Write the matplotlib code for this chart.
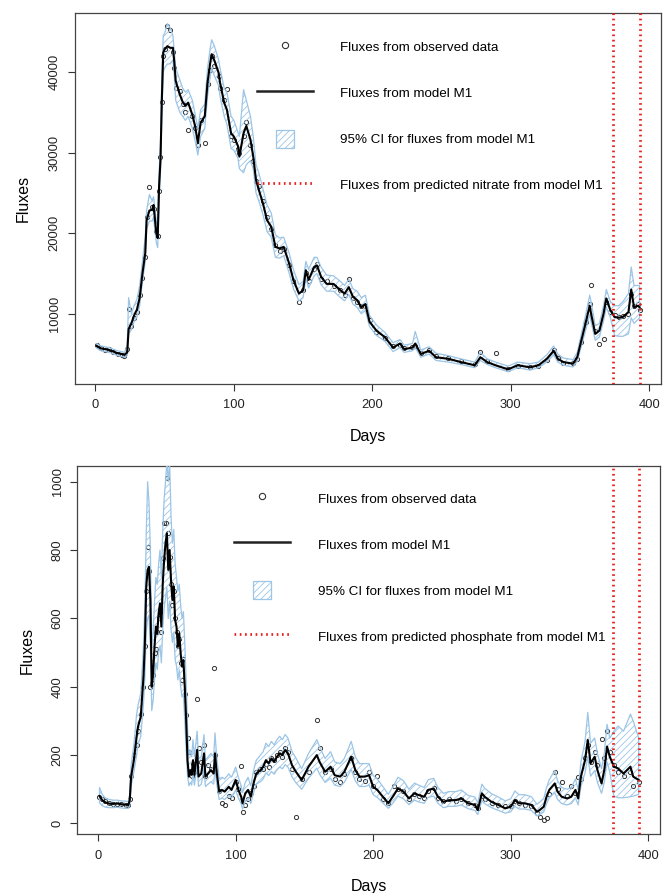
import matplotlib
matplotlib.use("Agg")
import matplotlib.pyplot as plt
import matplotlib.patches as mpatches
from matplotlib.lines import Line2D
from matplotlib.legend_handler import HandlerPatch

plt.rcParams['font.family'] = ['Liberation Sans', 'DejaVu Sans']
plt.rcParams['hatch.linewidth'] = 0.6

# ---- nitrate fluxes (top panel) ----
days_n = [1, 4, 7, 10, 13, 16, 19, 21, 23, 24, 26, 28, 30, 32, 34, 36, 37, 39, 41, 42,
          44, 45, 46, 47, 48, 49, 50, 52, 54, 56, 57, 58, 61, 63, 65, 67, 70, 72, 74, 76,
          79, 81, 83, 84, 86, 89, 90, 93, 95, 98, 100, 103, 104, 107, 109, 112, 114, 116, 118, 121,
          124, 127, 130, 133, 136, 140, 143, 147, 150, 152, 154, 158, 160, 163, 167, 172, 177, 180, 183, 186,
          189, 192, 195, 198, 203, 209, 215, 220, 223, 229, 231, 235, 241, 246, 255, 264, 274, 278, 283, 289,
          298, 305, 314, 320, 326, 331, 334, 338, 345, 348, 351, 354, 357, 358, 361, 364, 367, 369, 372, 375,
          378, 381, 385, 387, 389, 392, 393]
model_n = [6000, 5700, 5600, 5500, 5300, 5100, 5000, 4900, 5200, 8100, 8800, 9800, 10500, 12000, 15000, 17500, 21600, 22800, 22900, 23500,
           20000, 19400, 25800, 29000, 36600, 42400, 42800, 43200, 43000, 43000, 41200, 38900, 37200, 36300, 35800, 36200, 34700, 33300, 31200, 33700,
           34500, 38700, 41200, 42200, 41400, 39900, 38700, 36200, 35300, 32400, 32000, 30800, 29500, 32400, 33300, 31600, 29500, 26600, 25400, 23700,
           21600, 20800, 18300, 18100, 18300, 16200, 14200, 12500, 12900, 15400, 14200, 15800, 16000, 14600, 13700, 13700, 12900, 12500, 13300, 12100,
           11700, 10800, 11200, 9000, 7900, 7100, 5800, 6300, 5600, 5800, 6300, 5000, 5400, 4600, 4400, 4000, 3600, 4600, 4000, 3600,
           3100, 3600, 3350, 3600, 4400, 5400, 4400, 4000, 3800, 4600, 6700, 8800, 11000, 10000, 7500, 7900, 10000, 11900, 10400, 9600,
           9500, 9600, 10200, 13000, 10800, 11000, 10800]
upper_n = [6300, 6000, 5900, 5800, 5600, 5400, 5300, 5200, 6000, 12000, 10000, 11000, 11800, 13500, 16500, 19500, 22800, 24800, 24000, 24500,
           21500, 21000, 27500, 31000, 39500, 44500, 44800, 46000, 45500, 44500, 42500, 40500, 39000, 38000, 37500, 37800, 36500, 34800, 33000, 35300,
           36000, 40500, 43000, 44000, 43200, 41500, 40500, 38000, 37500, 34500, 34000, 32500, 32000, 37800, 36500, 34500, 32000, 28500, 27500, 25500,
           23500, 22500, 19800, 19400, 19500, 17500, 15500, 13600, 14000, 16500, 15500, 17000, 17000, 15800, 14800, 14700, 14000, 13500, 14300, 13100,
           12800, 12000, 12300, 9800, 8600, 7700, 6400, 6800, 6100, 6300, 7800, 5500, 5900, 5100, 4800, 4400, 4000, 5200, 4400, 4000,
           3500, 4000, 3800, 4000, 4900, 6000, 5000, 4500, 4300, 5200, 7500, 9800, 12300, 11500, 8500, 8800, 11000, 13000, 11500, 11000,
           11000, 11500, 12500, 15800, 13500, 13500, 13500]
lower_n = [5700, 5400, 5300, 5200, 5000, 4800, 4700, 4600, 4800, 7500, 8000, 9000, 9600, 11000, 14000, 16500, 20500, 21500, 21500, 22000,
           18800, 18200, 24000, 27500, 34500, 40000, 40500, 41000, 41000, 41500, 39500, 36500, 35000, 34500, 34000, 34500, 33000, 31500, 29700, 32000,
           33000, 37000, 39500, 40500, 39500, 38300, 37000, 34500, 33500, 30500, 30300, 29300, 28000, 27500, 28500, 29000, 28000, 25000, 24000, 22300,
           20200, 19500, 17000, 16900, 17200, 15000, 13100, 11600, 12000, 14400, 13200, 14700, 15000, 13600, 12800, 12800, 12000, 11600, 12400, 11200,
           10800, 10000, 10400, 8400, 7300, 6600, 5300, 5800, 5200, 5400, 5800, 4600, 5000, 4200, 4000, 3700, 3300, 4200, 3700, 3300,
           2800, 3300, 3000, 3300, 4000, 4900, 4000, 3600, 3400, 4100, 6000, 7900, 9900, 9000, 6700, 7100, 9100, 10800, 9500, 7300,
           7200, 7200, 7500, 9500, 8800, 9300, 9500]
obs_n = [6100, 5800, 5500, 5600, 5200, 5000, 4900, 4700, 5600, 10600, 8500, 9500, 10200, 12300, 14400, 17000, 22000, 25700, 23300, 23000,
         20300, 19600, 25200, 29500, 36300, 42000, 42800, 45700, 45200, 42500, 40500, 38000, 37600, 36000, 35000, 32800, 34500, 33000, 31000, 34000,
         31200, 38500, 40300, 42000, 40800, 39500, 38000, 36500, 37900, 32000, 31500, 30500, 30000, 32000, 33800, 31000, 29000, 26500, 25800, 24000,
         22000, 20500, 18500, 17800, 18000, 16000, 14000, 11500, 13000, 15000, 14000, 15500, 16200, 14300, 14000, 13500, 13000, 12300, 14300, 12000,
         11500, 11000, 11000, 9200, 7700, 7000, 6000, 6100, 5700, 5900, 6000, 5100, 5500, 4700, 4500, 4100, 3700, 5300, 4100, 5100,
         3200, 3500, 3400, 3500, 4300, 5500, 4500, 3900, 3900, 4400, 6500, 9000, 11200, 13600, 7800, 6300, 6900, 11500, 10200, 9800,
         9600, 9700, 10000, 12500, 11000, 11200, 10500]

# ---- phosphate fluxes (bottom panel) ----
days_p = [1, 3, 5, 8, 11, 14, 17, 20, 22, 23, 24, 26, 28, 29, 31, 33, 34, 35, 36, 37,
          38, 39, 40, 41, 42, 43, 44, 45, 46, 47, 48, 49, 50, 51, 52, 53, 54, 55, 56, 57,
          58, 59, 60, 61, 62, 63, 64, 65, 66, 67, 68, 69, 70, 72, 73, 75, 77, 78, 80, 82,
          84, 85, 86, 88, 90, 92, 95, 97, 100, 102, 104, 105, 107, 109, 111, 113, 115, 118, 120, 122,
          124, 126, 128, 130, 132, 134, 136, 138, 141, 144, 148, 153, 159, 161, 165, 169, 172, 176, 179, 184,
          187, 190, 194, 197, 200, 203, 207, 211, 215, 218, 222, 226, 230, 233, 237, 240, 244, 247, 251, 255,
          260, 264, 269, 274, 276, 279, 281, 286, 291, 296, 300, 303, 306, 310, 315, 319, 321, 324, 326, 328,
          332, 334, 337, 341, 344, 347, 349, 351, 354, 356, 358, 361, 363, 366, 368, 370, 372, 375, 378, 382,
          387, 389, 393]
model_p = [80, 68, 62, 58, 57, 58, 56, 55, 54, 68, 137, 185, 254, 283, 312, 430, 527, 693, 742, 751,
           654, 400, 439, 517, 576, 556, 615, 644, 576, 703, 771, 820, 849, 742, 800, 712, 654, 693, 595, 576,
           517, 556, 498, 459, 478, 400, 303, 185, 137, 156, 142, 185, 142, 215, 137, 146, 205, 137, 146, 156,
           146, 205, 156, 93, 98, 93, 107, 98, 127, 98, 78, 59, 88, 98, 78, 117, 146, 156, 166, 185,
           176, 190, 181, 195, 205, 200, 215, 205, 170, 150, 127, 166, 200, 180, 151, 166, 141, 137, 151, 195,
           156, 137, 137, 141, 107, 98, 78, 59, 83, 102, 93, 73, 88, 83, 78, 98, 102, 78, 63, 68,
           68, 73, 59, 54, 39, 88, 78, 63, 54, 44, 49, 68, 59, 59, 54, 34, 39, 49, 78, 98,
           117, 93, 78, 73, 78, 98, 73, 137, 185, 244, 176, 195, 156, 117, 156, 225, 195, 166, 161, 146,
           166, 137, 127]
upper_p = [105, 85, 75, 70, 68, 68, 66, 65, 64, 85, 170, 230, 320, 345, 380, 520, 640, 850, 1000, 940,
           800, 520, 560, 650, 720, 700, 760, 800, 720, 860, 950, 1000, 1060, 1000, 1060, 900, 820, 860, 760, 720,
           680, 700, 640, 600, 620, 530, 420, 280, 200, 215, 195, 245, 195, 270, 190, 195, 260, 185, 195, 205,
           195, 265, 205, 130, 135, 130, 145, 135, 165, 135, 110, 90, 120, 135, 110, 155, 185, 200, 210, 235,
           225, 240, 230, 245, 255, 245, 260, 250, 210, 190, 160, 205, 245, 225, 190, 210, 180, 175, 190, 240,
           195, 175, 175, 175, 140, 130, 108, 85, 112, 135, 125, 100, 118, 112, 105, 128, 132, 105, 88, 93,
           93, 98, 82, 77, 60, 115, 103, 87, 77, 66, 72, 95, 84, 84, 78, 56, 62, 73, 105, 128,
           155, 125, 105, 100, 105, 130, 100, 180, 240, 325, 235, 250, 205, 160, 205, 290, 250, 270, 285, 270,
           320, 300, 250]
lower_p = [60, 52, 48, 46, 46, 47, 45, 44, 44, 52, 110, 150, 200, 230, 255, 350, 430, 560, 600, 610,
           520, 330, 360, 420, 470, 450, 500, 520, 470, 570, 630, 660, 690, 600, 650, 570, 530, 560, 480, 460,
           420, 450, 400, 370, 380, 300, 220, 140, 110, 120, 112, 145, 112, 170, 108, 115, 160, 108, 115, 122,
           115, 160, 122, 70, 74, 70, 82, 74, 98, 74, 58, 42, 65, 74, 58, 90, 115, 122, 130, 148,
           140, 152, 144, 157, 165, 160, 172, 165, 136, 118, 100, 132, 162, 144, 120, 132, 112, 108, 120, 158,
           124, 108, 108, 112, 84, 76, 60, 44, 63, 80, 72, 55, 68, 63, 59, 76, 80, 59, 46, 50,
           50, 54, 43, 38, 26, 67, 58, 46, 38, 30, 34, 50, 42, 42, 38, 22, 25, 34, 58, 75,
           90, 70, 58, 54, 58, 75, 54, 108, 148, 195, 138, 155, 120, 88, 120, 180, 150, 80, 75, 75,
           78, 80, 85]
obs_p = [78, 70, 65, 60, 58, 57, 57, 54, 55, 70, 140, 200, 230, 270, 320, 400, 520, 680, 808, 740,
         400, 410, 435, 500, 510, 560, 600, 620, 560, 778, 880, 880, 1010, 850, 780, 700, 640, 680, 600, 560,
         520, 540, 470, 420, 480, 380, 317, 250, 210, 150, 140, 175, 150, 365, 220, 180, 230, 140, 170, 160,
         455, 200, 150, 95, 60, 55, 80, 75, 120, 100, 169, 32, 55, 70, 90, 110, 150, 160, 160, 175,
         165, 190, 185, 200, 210, 195, 220, 210, 160, 20, 130, 150, 304, 220, 150, 160, 130, 120, 145, 190,
         150, 130, 125, 150, 110, 140, 70, 60, 110, 100, 95, 70, 85, 80, 75, 95, 105, 75, 65, 70,
         65, 70, 60, 55, 45, 80, 70, 60, 55, 50, 50, 65, 60, 55, 50, 30, 20, 10, 15, 85,
         150, 100, 120, 80, 110, 90, 135, 130, 190, 230, 180, 210, 170, 247, 190, 270, 210, 170, 150, 140,
         150, 110, 120]

pred_days = [374, 393]

CI_COL = '#9cc5e6'
RED = '#e8231f'


def square_patch(legend, orig_handle, xdescent, ydescent, width, height, fontsize):
    return mpatches.Rectangle((-xdescent + (width - height) / 2, -ydescent), height, height)


def panel(ax, days, obs, model, lo, hi, ylim, yticks, pred_label, anchor):
    ax.plot(days, obs, 'o', mfc='none', mec='#333333', ms=3, mew=0.7, zorder=2)
    ax.fill_between(days, lo, hi, facecolor='none', edgecolor=CI_COL, hatch='/////',
                    linewidth=0.9, zorder=3)
    ax.plot(days, model, color='black', lw=1.5, zorder=4)
    for d in pred_days:
        ax.axvline(d, color=RED, lw=2.0, dashes=(0.6, 1.3), zorder=5)
    ax.set_xlim(-15, 408.5)
    ax.set_ylim(*ylim)
    ax.set_xticks([0, 100, 200, 300, 400])
    ax.set_yticks(yticks)
    ax.tick_params(direction='out', length=5, width=0.8, labelsize=9.3, colors='#333333',
                   labelcolor='#222222')
    ax.tick_params(axis='x', pad=6)
    ax.tick_params(axis='y', pad=5)
    for lab in ax.get_yticklabels():
        lab.set_rotation(90)
        lab.set_va('center')
    for s in ax.spines.values():
        s.set_color('#444444')
        s.set_linewidth(0.9)
    ax.set_xlabel('Days', fontsize=11.5)
    ax.set_ylabel('Fluxes', fontsize=11.5)
    ax.xaxis.set_label_coords(0.5, -0.12)
    ax.yaxis.set_label_coords(-0.074, 0.5)

    handles = [
        Line2D([], [], ls='none', marker='o', mfc='none', mec='#333333', ms=4.5, mew=0.8),
        Line2D([], [], color='#222222', lw=1.8),
        mpatches.Patch(facecolor='none', edgecolor=CI_COL, hatch='/////', lw=0.9),
        Line2D([], [], color=RED, lw=2.0, dashes=(0.6, 1.3)),
    ]
    labels = ['Fluxes from observed data', 'Fluxes from model M1',
              '95% CI for fluxes from model M1', pred_label]
    ax.legend(handles, labels, loc='upper left', bbox_to_anchor=anchor, frameon=False,
              fontsize=9.6, handlelength=4.2, handleheight=1.7, handletextpad=2.05,
              labelspacing=2.1, borderpad=0, borderaxespad=0,
              handler_map={mpatches.Patch: HandlerPatch(patch_func=square_patch)})


fig = plt.figure(figsize=(6.65, 8.93), dpi=100)
ax1 = fig.add_axes([0.1122, 0.570, 0.8818, 0.4158])
ax2 = fig.add_axes([0.1165, 0.0657, 0.876, 0.4128])

panel(ax1, days_n, obs_n, model_n, lower_n, upper_n, (1280, 47360),
      [10000, 20000, 30000, 40000], 'Fluxes from predicted nitrate from model M1', (0.311, 0.932))
panel(ax2, days_p, obs_p, model_p, lower_p, upper_p, (-32, 1047),
      [0, 200, 400, 600, 800, 1000], 'Fluxes from predicted phosphate from model M1', (0.2695, 0.936))

fig.savefig('out.png', dpi=100, facecolor='white')
